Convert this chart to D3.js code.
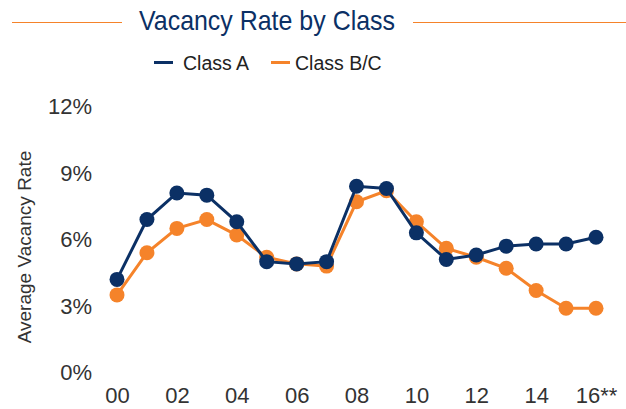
<!DOCTYPE html>
<html lang="en">
<head>
    <meta charset="UTF-8">
    <title>Vacancy Rate by Class</title>
    <script src="https://d3js.org/d3.v7.min.js"></script>
    <style>
        body { margin: 0; background: #fff; }
        svg { display: block; }
        svg text { font-family: "Liberation Sans", Arial, Helvetica, sans-serif; }
        .axis text { fill: #333; }
    </style>
    <script>
        const YEARS = [0, 1, 2, 3, 4, 5, 6, 7, 8, 9, 10, 11, 12, 13, 14, 15, 16];
        const CLASS_A = [4.2, 6.9, 8.1, 8.0, 6.8, 5.0, 4.9, 5.0, 8.4, 8.3, 6.3, 5.1, 5.3, 5.7, 5.8, 5.8, 6.1];
        const CLASS_BC = [3.5, 5.4, 6.5, 6.9, 6.2, 5.2, 4.9, 4.8, 7.7, 8.2, 6.8, 5.6, 5.2, 4.7, 3.7, 2.9, 2.9];
        const X_TICKS = [0, 2, 4, 6, 8, 10, 12, 14, 16];
        const X_LABELS = ["00", "02", "04", "06", "08", "10", "12", "14", "16**"];
        const Y_TICKS = [0, 3, 6, 9, 12];

        const NAVY = "#0b3065";
        const ORANGE = "#f5832a";

        document.addEventListener("DOMContentLoaded", () => makeGraph());

        function makeGraph() {
            const svg = d3.select("svg").attr("width", 626).attr("height", 409);

            const x = d3.scaleLinear().domain([0, 16]).range([117, 596]);
            const y = d3.scaleLinear().domain([0, 12]).range([372.5, 106.5]);

            // title with side rules
            svg.append("line").attr("x1", 12).attr("x2", 122).attr("y1", 22.5).attr("y2", 22.5)
                .attr("stroke", ORANGE).attr("stroke-width", 1.2);
            svg.append("line").attr("x1", 413).attr("x2", 626).attr("y1", 22.5).attr("y2", 22.5)
                .attr("stroke", ORANGE).attr("stroke-width", 1.2);
            svg.append("text").attr("x", 267).attr("y", 30).attr("text-anchor", "middle")
                .attr("font-size", 28).attr("textLength", 256).attr("lengthAdjust", "spacingAndGlyphs")
                .attr("fill", NAVY).text("Vacancy Rate by Class");

            // legend
            const legend = [["Class A", NAVY, 154, 183], ["Class B/C", ORANGE, 271, 295]];
            legend.forEach(([name, color, lx, tx]) => {
                svg.append("line").attr("x1", lx).attr("x2", lx + 19).attr("y1", 62.5).attr("y2", 62.5)
                    .attr("stroke", color).attr("stroke-width", 3);
                svg.append("text").attr("x", tx).attr("y", 69.5).attr("font-size", 19.5)
                    .attr("fill", "#222").text(name);
            });

            // axes
            const yAxis = svg.append("g").attr("class", "axis")
                .attr("transform", "translate(92,0)")
                .call(d3.axisLeft(y).tickValues(Y_TICKS).tickSize(0).tickPadding(0)
                    .tickFormat(d => d + "%"));
            yAxis.attr("font-family", null).attr("font-size", 22);
            yAxis.select(".domain").remove();

            const xAxis = svg.append("g").attr("class", "axis")
                .attr("transform", "translate(0,387)")
                .call(d3.axisBottom(x).tickValues(X_TICKS).tickSize(0).tickPadding(0)
                    .tickFormat((d, i) => X_LABELS[i]));
            xAxis.attr("font-family", null).attr("font-size", 22);
            xAxis.select(".domain").remove();

            svg.append("text").attr("transform", "translate(31,247) rotate(-90)")
                .attr("text-anchor", "middle").attr("font-size", 19).attr("fill", "#333")
                .text("Average Vacancy Rate");

            // series
            const series = [[CLASS_BC, ORANGE], [CLASS_A, NAVY]];
            const line = d3.line().x((d, i) => x(YEARS[i])).y(d => y(d));
            series.forEach(([vals, color]) => {
                svg.append("path").datum(vals).attr("fill", "none")
                    .attr("stroke", color).attr("stroke-width", 3).attr("d", line);
                svg.append("g").selectAll("circle").data(vals).join("circle")
                    .attr("cx", (d, i) => x(YEARS[i])).attr("cy", d => y(d))
                    .attr("r", 7.5).attr("fill", color);
            });
        }
    </script>
</head>
<body>
    <svg id="graph"></svg>
</body>
</html>
